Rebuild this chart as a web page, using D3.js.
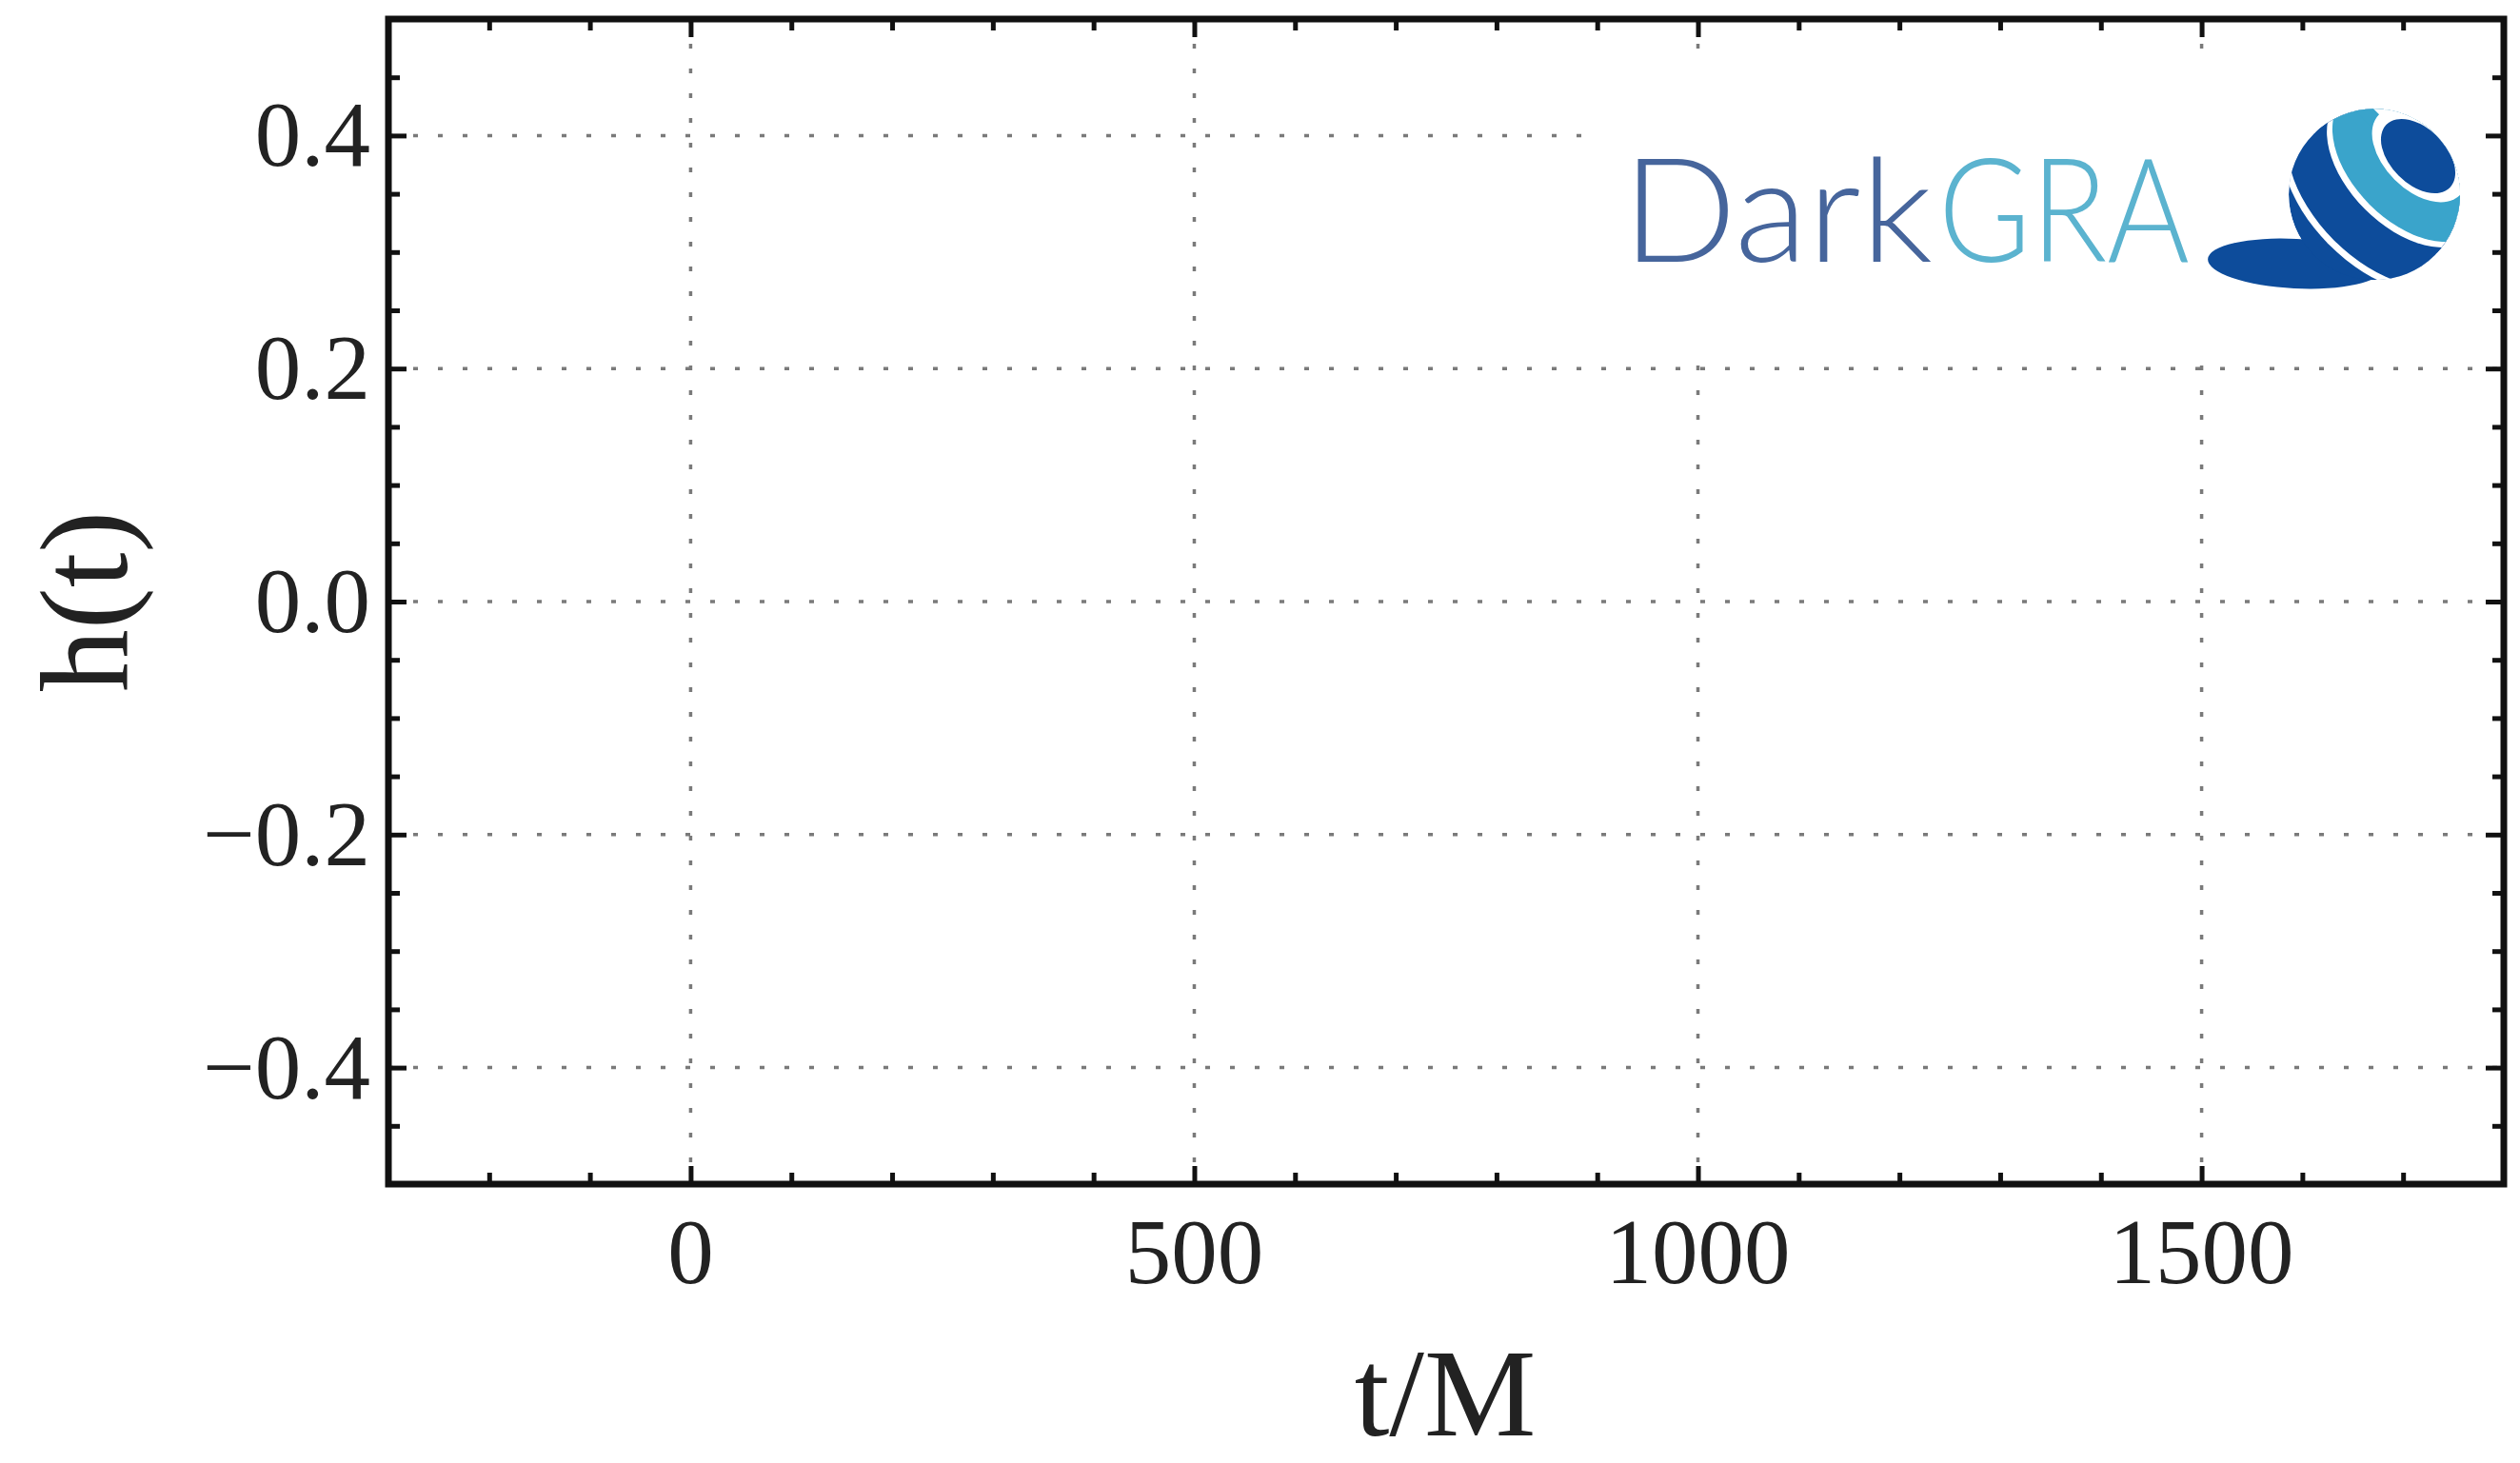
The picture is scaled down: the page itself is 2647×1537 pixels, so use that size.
<!DOCTYPE html>
<html>
<head>
<meta charset="utf-8">
<script src="https://cdn.jsdelivr.net/npm/d3@7"></script>
<style>
  html, body { margin: 0; padding: 0; background: #fff; }
  svg { display: block; }
</style>
</head>
<body>
<svg id="chart" width="2647" height="1537"></svg>
<script>
// Axis extents and tick values of the strain plot h(t) vs t/M
const xDomain = [-300, 1800];
const yDomain = [-0.5, 0.5];
const xMajorTicks = [0, 500, 1000, 1500];
const yMajorTicks = [-0.4, -0.2, 0.0, 0.2, 0.4];
const xMinorStep = 100;
const yMinorStep = 0.05;
const xLabel = "t/M";
const yLabel = "h(t)";
const logoWords = ["Dark", "GRA"];

const svg = d3.select("#chart");
const W = 2647, H = 1537;
const plot = { left: 408, right: 2630, top: 20, bottom: 1244 };

const x = d3.scaleLinear().domain(xDomain).range([plot.left, plot.right]);
const y = d3.scaleLinear().domain(yDomain).range([plot.bottom, plot.top]);

const xMinor = d3.range(xDomain[0], xDomain[1] + 1e-9, xMinorStep).filter(v => !xMajorTicks.includes(v));
const yMinor = d3.range(yDomain[0], yDomain[1] + 1e-9, yMinorStep)
  .map(v => Math.round(v * 100) / 100)
  .filter(v => !yMajorTicks.some(t => Math.abs(t - v) < 1e-6) && v > yDomain[0] && v < yDomain[1]);

svg.append("rect").attr("width", W).attr("height", H).attr("fill", "#fff");

// dotted grid at the major ticks
const grid = svg.append("g")
  .attr("stroke", "#7a7a7a")
  .attr("stroke-width", 3.5)
  .attr("stroke-dasharray", "5,21");
grid.selectAll(".gx").data(xMajorTicks).join("line")
  .attr("x1", d => x(d)).attr("x2", d => x(d))
  .attr("y1", plot.top).attr("y2", plot.bottom);
grid.selectAll(".gy").data(yMajorTicks).join("line")
  .attr("x1", plot.left).attr("x2", plot.right)
  .attr("y1", d => y(d)).attr("y2", d => y(d));

// logo panel with its white backing
const logo = svg.append("g");
logo.append("rect")
  .attr("x", 1676).attr("y", 68).attr("width", 950).attr("height", 298)
  .attr("fill", "#fff");
const logoFont = "Lato, Inter, 'Open Sans', sans-serif";
logo.append("text")
  .attr("x", 1704).attr("y", 275)
  .attr("font-family", logoFont).attr("font-weight", 300).attr("font-size", 152)
  .attr("fill", "#46659c")
  .attr("textLength", 326).attr("lengthAdjust", "spacingAndGlyphs")
  .text(logoWords[0]);
logo.append("text")
  .attr("x", 2036).attr("y", 275)
  .attr("font-family", logoFont).attr("font-weight", 300).attr("font-size", 152)
  .attr("fill", "#5bb3cf")
  .attr("textLength", 264).attr("lengthAdjust", "spacingAndGlyphs")
  .text(logoWords[1]);

// ball emblem: a shadow, then a banded sphere whose pole leans to the upper right
const dark = "#0d4c9b", light = "#3aa4cb";
logo.append("ellipse")
  .attr("cx", 2411).attr("cy", 277).attr("rx", 92).attr("ry", 26)
  .attr("transform", "rotate(3 2411 277)")
  .attr("fill", dark);

// local frame centred on the polar cap: +x up-right (towards the pole), +y down-right
const ball = logo.append("g").attr("transform", "translate(2540,164) rotate(-45)");
svg.append("defs").append("clipPath").attr("id", "sphere-clip")
  .append("circle").attr("cx", -61).attr("cy", -4).attr("r", 90);
const bands = ball.append("g").attr("clip-path", "url(#sphere-clip)");
bands.append("circle").attr("cx", -61).attr("cy", -4).attr("r", 90).attr("fill", dark);
// each layer covers everything on the pole side of a latitude ellipse
const layers = [
  { c: -64, b: 68, a: 120, fill: "#fff" },
  { c: -58, b: 67, a: 118, fill: dark },
  { c: -19, b: 60, a: 100, fill: "#fff" },
  { c: -13, b: 59, a: 98, fill: light },
  { c: 2, b: 37, a: 60, fill: "#fff" },
];
layers.forEach(l => {
  bands.append("ellipse")
    .attr("cx", l.c).attr("cy", 0).attr("rx", l.b).attr("ry", l.a)
    .attr("fill", l.fill);
  bands.append("rect")
    .attr("x", l.c).attr("y", -200).attr("width", 200).attr("height", 400)
    .attr("fill", l.fill);
});
bands.append("ellipse")
  .attr("cx", 0).attr("cy", 0).attr("rx", 29).attr("ry", 47)
  .attr("fill", dark);

// inward ticks on all four sides
const tickColor = "#111";
function styleTicks(g) {
  g.select(".domain").remove();
  g.selectAll(".tick line").attr("stroke", tickColor).attr("stroke-width", 5);
  g.selectAll(".tick text").remove();
}
const MAJ = 19, MIN = 12;
[[d3.axisBottom, plot.bottom], [d3.axisTop, plot.top]].forEach(([ax, pos]) => {
  svg.append("g").attr("transform", `translate(0,${pos})`)
    .call(ax(x).tickValues(xMajorTicks).tickSize(-MAJ)).call(styleTicks);
  svg.append("g").attr("transform", `translate(0,${pos})`)
    .call(ax(x).tickValues(xMinor).tickSize(-MIN)).call(styleTicks);
});
[[d3.axisLeft, plot.left], [d3.axisRight, plot.right]].forEach(([ax, pos]) => {
  svg.append("g").attr("transform", `translate(${pos},0)`)
    .call(ax(y).tickValues(yMajorTicks).tickSize(-MAJ)).call(styleTicks);
  svg.append("g").attr("transform", `translate(${pos},0)`)
    .call(ax(y).tickValues(yMinor).tickSize(-MIN)).call(styleTicks);
});

// frame
svg.append("rect")
  .attr("x", plot.left).attr("y", plot.top)
  .attr("width", plot.right - plot.left).attr("height", plot.bottom - plot.top)
  .attr("fill", "none").attr("stroke", tickColor).attr("stroke-width", 7);

// tick labels
const serif = "'Liberation Serif', 'DejaVu Serif', serif";
const fmt = v => {
  if (Math.abs(v) < 1e-9) return "0.0";
  const s = Math.abs(v).toFixed(1);
  return v < 0 ? "\u2212" + s : s;
};
svg.append("g").selectAll("text").data(xMajorTicks).join("text")
  .attr("x", d => x(d)).attr("y", 1348)
  .attr("text-anchor", "middle")
  .attr("font-family", serif).attr("font-size", 97).attr("fill", "#222")
  .text(d => d3.format("d")(d));
svg.append("g").selectAll("text").data(yMajorTicks).join("text")
  .attr("x", 389).attr("y", d => y(d) + 32)
  .attr("text-anchor", "end")
  .attr("font-family", serif).attr("font-size", 97).attr("fill", "#222")
  .text(fmt);

// axis titles
svg.append("text")
  .attr("x", 1518).attr("y", 1508)
  .attr("text-anchor", "middle")
  .attr("font-family", serif).attr("font-size", 132).attr("fill", "#222")
  .text(xLabel);
svg.append("text")
  .attr("transform", `translate(133,${y(0)}) rotate(-90)`)
  .attr("text-anchor", "middle")
  .attr("font-family", serif).attr("font-size", 132).attr("fill", "#222")
  .text(yLabel);
</script>
</body>
</html>
